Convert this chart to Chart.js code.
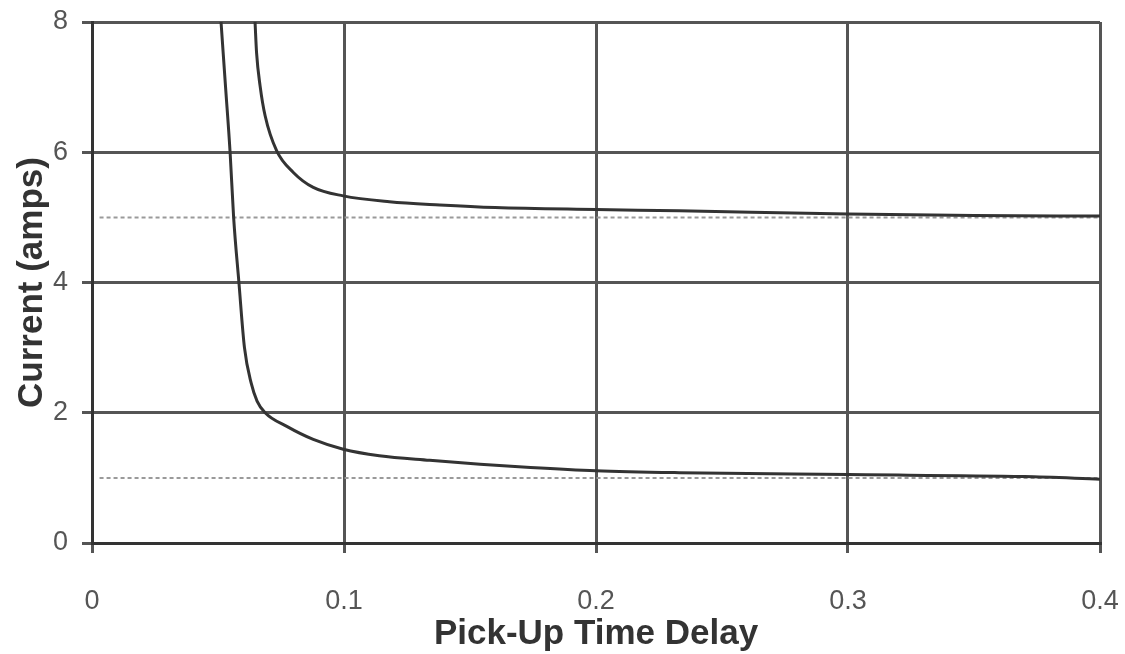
<!DOCTYPE html>
<html>
<head>
<meta charset="utf-8">
<script src="https://cdn.jsdelivr.net/npm/chart.js@4/dist/chart.umd.min.js"></script>
<style>
  html, body { margin: 0; padding: 0; background: #fff; }
  #wrap { width: 1125px; height: 654px; position: relative; }
</style>
</head>
<body>
<div id="wrap"><canvas id="c" width="1125" height="654"></canvas></div>
<script>
// ---- data ----
const upperX = [0.0647, 0.0653, 0.0667, 0.0687, 0.0733, 0.0799, 0.0878, 0.0997, 0.118, 0.138, 0.16, 0.2, 0.233, 0.3, 0.35, 0.4];
const upperY = [8.0, 7.53, 7.02, 6.56, 6.02, 5.69, 5.46, 5.33, 5.24, 5.19, 5.15, 5.12, 5.10, 5.05, 5.03, 5.02];
const lowerX = [0.0512, 0.053, 0.0548, 0.0562, 0.0583, 0.0605, 0.0632, 0.0655, 0.0687, 0.0773, 0.0878, 0.0997, 0.114, 0.134, 0.154, 0.174, 0.2, 0.233, 0.3, 0.37, 0.4];
const lowerY = [8.0, 7.0, 6.0, 5.0, 4.0, 3.0, 2.45, 2.18, 2.0, 1.79, 1.59, 1.44, 1.34, 1.27, 1.21, 1.16, 1.11, 1.08, 1.05, 1.02, 0.98];
const pickupLevels = [1, 5];
const refLineX = [0.003, 0.4];
const xTickLabels = ['0', '0.1', '0.2', '0.3', '0.4'];
const yTickLabels = ['0', '2', '4', '6', '8'];
const xTitle = 'Pick-Up Time Delay';
const yTitle = 'Current (amps)';

const toPts = (xs, ys) => xs.map((x, i) => ({ x: x, y: ys[i] }));

const curveStyle = {
  showLine: true, pointRadius: 0, borderColor: '#333', borderWidth: 3,
  cubicInterpolationMode: 'monotone', fill: false
};
const refStyle = {
  showLine: true, pointRadius: 0, borderColor: '#9a9a9a', borderWidth: 2,
  borderDash: [4, 3], fill: false
};

const datasets = [
  Object.assign({ label: 'upper', data: toPts(upperX, upperY) }, curveStyle),
  Object.assign({ label: 'lower', data: toPts(lowerX, lowerY) }, curveStyle)
].concat(pickupLevels.map(v => Object.assign({
  label: 'ref' + v, data: refLineX.map(x => ({ x: x, y: v }))
}, refStyle)));

new Chart(document.getElementById('c'), {
  type: 'scatter',
  data: { datasets: datasets },
  options: {
    responsive: false,
    animation: false,
    devicePixelRatio: 1,
    layout: { padding: { top: 22, right: 25, left: 0, bottom: 0 } },
    plugins: { legend: { display: false }, tooltip: { enabled: false } },
    scales: {
      x: {
        type: 'linear', min: 0, max: 0.4,
        afterFit: s => { s.height = 111; s.paddingLeft = 0; s.paddingRight = 0; },
        afterBuildTicks: s => { s.ticks = xTickLabels.map(t => ({ value: parseFloat(t) })); },
        ticks: {
          callback: (v, i) => xTickLabels[i],
          color: '#555', padding: 32,
          font: { family: 'Liberation Sans', size: 27 }, maxRotation: 0
        },
        grid: { color: '#555', lineWidth: 3, tickLength: 10, tickColor: '#555' },
        border: { color: '#333', width: 3 },
        title: {
          display: true, text: xTitle, color: '#333',
          font: { family: 'Liberation Sans', size: 35, weight: 'bold', lineHeight: 1.0 },
          padding: { top: 0, bottom: 2 }
        }
      },
      y: {
        type: 'linear', min: 0, max: 8,
        afterFit: s => { s.width = 92; s.paddingTop = 0; s.paddingBottom = 0; },
        afterBuildTicks: s => { s.ticks = yTickLabels.map(t => ({ value: parseFloat(t) })); },
        ticks: {
          callback: (v, i) => yTickLabels[i],
          color: '#555', padding: 14,
          font: { family: 'Liberation Sans', size: 27 }
        },
        grid: { color: '#555', lineWidth: 3, tickLength: 10, tickColor: '#555' },
        border: { color: '#333', width: 3 },
        title: {
          display: true, text: yTitle, color: '#333',
          font: { family: 'Liberation Sans', size: 35, weight: 'bold', lineHeight: 1.0 },
          padding: { top: 15, bottom: 0 }
        }
      }
    }
  },
  plugins: [{
    id: 'bg',
    beforeDraw: ch => {
      const ctx = ch.ctx; ctx.save(); ctx.fillStyle = '#fff';
      ctx.fillRect(0, 0, ch.width, ch.height); ctx.restore();
    }
  }]
});
</script>
</body>
</html>
